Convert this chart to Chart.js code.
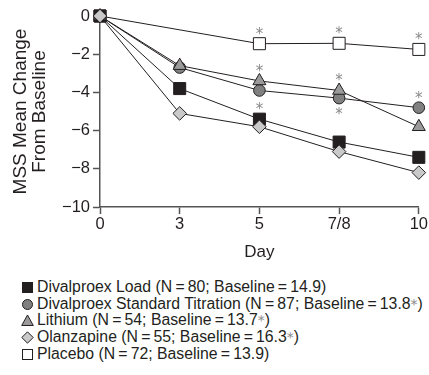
<!DOCTYPE html>
<html>
<head>
<meta charset="utf-8">
<script src="https://cdn.jsdelivr.net/npm/chart.js@4/dist/chart.umd.min.js"></script>
<style>
  html, body { margin: 0; padding: 0; background: #fff; }
  body { width: 429px; height: 375px; position: relative; overflow: hidden;
         font-family: "Liberation Sans", Arial, Helvetica, sans-serif; color: #231f20; }
  #wrap { position: absolute; left: 0; top: 0; width: 429px; height: 266px; }
  #legend { position: absolute; left: 21px; top: 279px; font-size: 15.8px; line-height: 16.7px; white-space: nowrap; }
  #legend .row { display: flex; align-items: center; height: 16.7px; }
  #legend svg { width: 13px; height: 13px; margin-right: 3px; flex: none; }
  #legend .ast { color: #8a8a8a; font-size: 14px; font-family: "DejaVu Sans", sans-serif; }
</style>
</head>
<body>
<div id="wrap"><canvas id="c"></canvas></div>
<div id="legend"></div>
<script>
// ---- data ----
const days = ['0', '3', '5', '7/8', '10'];
const divalproexLoad = [0, -3.8, -5.4, -6.6, -7.4];
const divalproexStandard = [0, -2.7, -3.9, -4.3, -4.8];
const lithium = [0, -2.6, -3.4, -3.9, -5.8];
const olanzapine = [0, -5.1, -5.8, -7.1, -8.2];
const placebo = [0, null, -1.45, -1.43, -1.75];
const yTicks = [0, -2, -4, -6, -8, -10];

const seriesNames = ['Divalproex Load', 'Divalproex Standard Titration', 'Lithium', 'Olanzapine', 'Placebo'];
const seriesN = [80, 87, 54, 55, 72];
const seriesBaseline = ['14.9', '13.8', '13.7', '16.3', '13.9'];
const baselineSignificant = [false, true, true, true, false];
// significance markers: [series index, day index, above(1)/below(-1)]
const significance = [
  [4, 2, 1], [4, 3, 1], [4, 4, 1],
  [2, 2, 1], [2, 3, 1],
  [0, 2, 1], [1, 3, -1], [1, 4, 1]
];

const fills = ['#231f20', '#808080', '#9a9a9a', '#c9c9c9', '#ffffff'];
const styles = ['rect', 'circle', 'triangle', 'rectRot', 'rect'];
const radii = [8.5, 5.8, 7.5, 6.8, 8.5];
const values = [divalproexLoad, divalproexStandard, lithium, olanzapine, placebo];
const drawOrder = [3, 4, 2, 1, 5];

const INK = '#231f20';
const AXIS = '#555555';

const datasets = values.map((v, i) => ({
  label: seriesNames[i],
  data: v,
  borderColor: INK,
  borderWidth: 1,
  backgroundColor: fills[i],
  pointBackgroundColor: fills[i],
  pointBorderColor: INK,
  pointBorderWidth: 1,
  pointStyle: styles[i],
  pointRadius: radii[i],
  pointHoverRadius: radii[i],
  spanGaps: true,
  tension: 0,
  clip: false,
  order: drawOrder[i]
}));

const asteriskPlugin = {
  id: 'asterisks',
  afterDatasetsDraw(chart) {
    const ctx = chart.ctx;
    ctx.save();
    ctx.fillStyle = '#8a8a8a';
    ctx.font = '15px "DejaVu Sans", sans-serif';
    ctx.textAlign = 'center';
    ctx.textBaseline = 'alphabetic';
    const m = ctx.measureText('*');
    const mid = (m.actualBoundingBoxAscent - m.actualBoundingBoxDescent) / 2;
    significance.forEach(([s, d, dir]) => {
      const el = chart.getDatasetMeta(s).data[d];
      if (!el) return;
      const y = el.y - dir * 13;
      ctx.fillText('*', el.x, y + mid);
    });
    ctx.restore();
  }
};

const tickFont = { family: '"Liberation Sans", Arial, sans-serif', size: 16.5 };

new Chart(document.getElementById('c'), {
  type: 'line',
  data: { labels: days, datasets },
  plugins: [asteriskPlugin],
  options: {
    responsive: true,
    maintainAspectRatio: false,
    animation: false,
    events: [],
    layout: { padding: { left: 0, right: 10, top: 16, bottom: 3 } },
    plugins: { legend: { display: false }, tooltip: { enabled: false } },
    scales: {
      x: {
        type: 'category',
        offset: false,
        border: { color: AXIS, width: 1.5 },
        grid: { drawOnChartArea: false, offset: false, tickLength: 7, color: AXIS, tickWidth: 1.5 },
        ticks: { color: INK, font: tickFont, padding: 1, maxRotation: 0, autoSkip: false },
        title: { display: true, text: 'Day', color: INK, font: { ...tickFont, size: 17 }, padding: { top: 0, bottom: 0 } },
        afterFit(s) { s.height = 56; }
      },
      y: {
        min: -10, max: 0,
        afterBuildTicks(s) { s.ticks = yTicks.map(v => ({ value: v })); },
        border: { color: AXIS, width: 1.5 },
        grid: { drawOnChartArea: false, tickLength: 7, color: AXIS, tickWidth: 1.5 },
        ticks: { color: INK, font: tickFont, padding: 3,
                 callback: v => (v < 0 ? '\u2212' + Math.abs(v) : String(v)) },
        title: { display: true, text: ['MSS Mean Change', 'From Baseline'], color: INK,
                 font: { ...tickFont, size: 19, lineHeight: 1.0 }, padding: { top: 11, bottom: 0 } },
        afterFit(s) { s.width = 100; }
      }
    }
  }
});

// ---- legend ----
function symbolSVG(i) {
  const f = fills[i];
  const st = `fill="${f}" stroke="${INK}" stroke-width="1"`;
  switch (styles[i] + (i === 0 ? 'solid' : '')) {
    case 'rectsolid': return `<svg viewBox="0 0 13 13"><rect x="1.5" y="1.5" width="10" height="10" ${st}/></svg>`;
    case 'circle': return `<svg viewBox="0 0 13 13"><circle cx="6.5" cy="6.5" r="5" ${st}/></svg>`;
    case 'triangle': return `<svg viewBox="0 0 13 13"><polygon points="6.5,1 12.3,11.5 0.7,11.5" ${st}/></svg>`;
    case 'rectRot': return `<svg viewBox="0 0 13 13"><polygon points="6.5,0.8 12.2,6.5 6.5,12.2 0.8,6.5" ${st}/></svg>`;
    default: return `<svg viewBox="0 0 13 13"><rect x="1.5" y="1.5" width="10" height="10" ${st}/></svg>`;
  }
}
const legend = document.getElementById('legend');
seriesNames.forEach((name, i) => {
  const row = document.createElement('div');
  row.className = 'row';
  row.innerHTML = symbolSVG(i) +
    `<span>${name} (N\u2009=\u2009${seriesN[i]}; Baseline\u2009=\u2009${seriesBaseline[i]}` +
    (baselineSignificant[i] ? '<span class="ast">*</span>' : '') + ')</span>';
  legend.appendChild(row);
});
</script>
</body>
</html>
